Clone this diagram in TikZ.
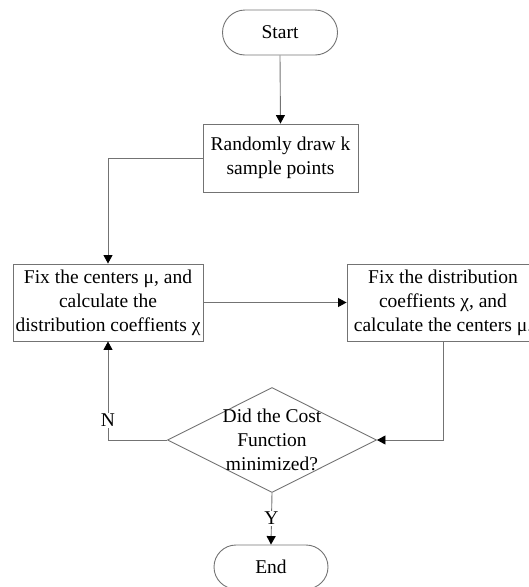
\documentclass[tikz,border=0pt]{standalone}
\usepackage{fontspec}
\setmainfont{Liberation Serif}
\usetikzlibrary{shapes.geometric,shapes.misc,arrows.meta}
\begin{document}
\begin{tikzpicture}[x=1pt,y=1pt,
  line/.style={draw={rgb,255:red,115;green,115;blue,115}, line width=0.9pt},
  arr/.style={line, -{Triangle[length=8.5pt,width=9pt,color=black]}},
  txt/.style={font=\fontsize{19.5}{24}\selectfont, align=center, text=black},
  term/.style={line, rounded rectangle, inner sep=0pt},
  proc/.style={line, rectangle, inner sep=0pt},
  dec/.style={line, diamond, inner sep=0pt},
  lab/.style={font=\fontsize{19.5}{24}\selectfont, fill=white, inner sep=1pt, text=black}
]
\useasboundingbox (0,0) rectangle (529,-587);
\node[term, txt, minimum width=115pt, minimum height=45pt] (start) at (280,-32.5) {Start};
\node[proc, txt, minimum width=155pt, minimum height=68pt] (rand) at (280.5,-158) {Randomly draw k\\sample points};
\node[proc, txt, minimum width=190pt, minimum height=77pt] (fixa) at (108,-302.5) {Fix the centers μ, and\\calculate the\\distribution coeffients χ};
\node[proc, txt, minimum width=192pt, minimum height=77pt] (fixb) at (443,-302.5) {Fix the distribution\\coeffients χ, and\\calculate the centers μ.};
\node[dec, minimum width=209pt, minimum height=105pt] (dia) at (272,-440) {};
\node[txt] (diatext) at (272,-440) {Did the Cost\\Function\\minimized?};
\node[term, txt, minimum width=114pt, minimum height=44pt] (end) at (271,-567) {End};

\draw[arr] (start.south) -- (rand.north);
\draw[arr] (rand.west) -| (fixa.north);
\draw[arr] (fixa.east) -- (fixb.west);
\draw[arr] (fixb.south) |- (dia.east);
\draw[arr] (dia.west) -| node[lab, pos=0.6] (nlab) {N} (fixa.south);
\draw[arr] (dia.south) -- node[lab, pos=0.49] (ylab) {Y} (end.north);
\end{tikzpicture}
\end{document}
